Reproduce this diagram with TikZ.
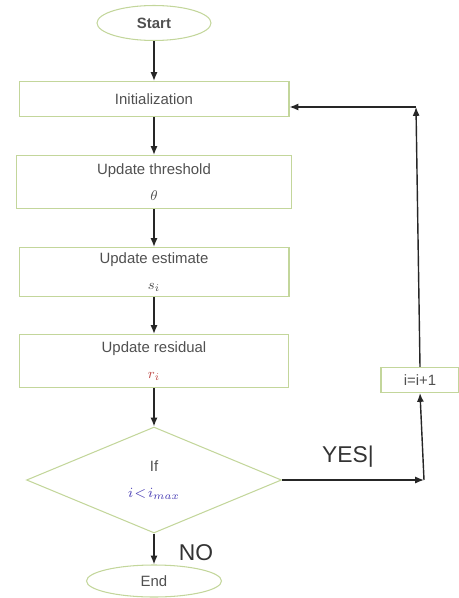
\documentclass[tikz,border=0pt]{standalone}
\usepackage{amsmath, amssymb}
\usepackage{fontspec}
\setsansfont{Liberation Sans}
\usetikzlibrary{positioning, shapes.geometric, arrows.meta}

\definecolor{boxgreen}{HTML}{C3D69B}
\definecolor{textgray}{HTML}{505050}
\definecolor{condblue}{HTML}{4A3FB5}
\definecolor{resred}{HTML}{C0504D}

\begin{document}
\begin{tikzpicture}[x=0.02cm, y=-0.02cm]


\tikzstyle{term_style} = [ellipse, draw=boxgreen, line width=0.6, inner sep=0pt, font=\sffamily\fontsize{8.5}{10}\selectfont, text=textgray]
\tikzstyle{box_style} = [rectangle, draw=boxgreen, line width=0.6, inner sep=0pt, align=center, font=\sffamily\fontsize{8.5}{10}\selectfont, text=textgray]
\tikzstyle{dec_style} = [diamond, draw=boxgreen, line width=0.6, inner sep=0pt, align=center, font=\sffamily\fontsize{8.5}{10}\selectfont, text=textgray]
\tikzstyle{edge_style} = [draw=black!85, line width=0.8, -{Latex[length=5pt, width=4pt]}]
\tikzstyle{big_label} = [font=\sffamily\fontsize{13}{15}\selectfont, text=black!80]

\useasboundingbox (0,0) rectangle (459,598);

\node[term_style, minimum width=2.28cm, minimum height=0.7cm] (start) at (154, 23) {\bfseries Start};
\node[box_style, minimum width=5.4cm, minimum height=0.7cm] (init) at (154, 99) {Initialization};
\node[box_style, minimum width=5.5cm, minimum height=1.06cm] (thresh) at (154, 182) {Update threshold\\[5pt]$\theta$};
\node[box_style, minimum width=5.4cm, minimum height=0.98cm] (estim) at (154, 272) {Update estimate\\[5pt]$s_i$};
\node[box_style, minimum width=5.38cm, minimum height=1.06cm] (resid) at (154, 361) {Update residual\\[5pt]\textcolor{resred}{$r_i$}};
\node[dec_style, minimum width=5.1cm, minimum height=2.12cm] (cond) at (154, 480) {If\\[5pt]\textcolor{condblue}{$i\!<\!i_{max}$}};
\node[term_style, minimum width=2.7cm, minimum height=0.64cm] (end) at (154, 581) {End};
\node[box_style, minimum width=1.56cm, minimum height=0.5cm] (inc) at (420, 380) {i=i+1};

\coordinate (yes) at (424, 480);
\coordinate (top) at (416, 107);

\draw[edge_style]  (start) -- (init);
\draw[edge_style]  (init) -- (thresh);
\draw[edge_style]  (thresh) -- (estim);
\draw[edge_style]  (estim) -- (resid);
\draw[edge_style]  (resid) -- (cond);
\draw[edge_style]  (cond) -- (end);
\draw[edge_style]  (cond.east) -- (yes);
\draw[edge_style]  (yes) -- (inc.south);
\draw[edge_style]  (inc.north) -- (top);
\draw[edge_style]  (top) -- (top -| init.east);

\node[big_label] (yeslabel) at (348, 457) {YES|};
\node[big_label] (nolabel) at (196, 553) {NO};


\end{tikzpicture}
\end{document}
